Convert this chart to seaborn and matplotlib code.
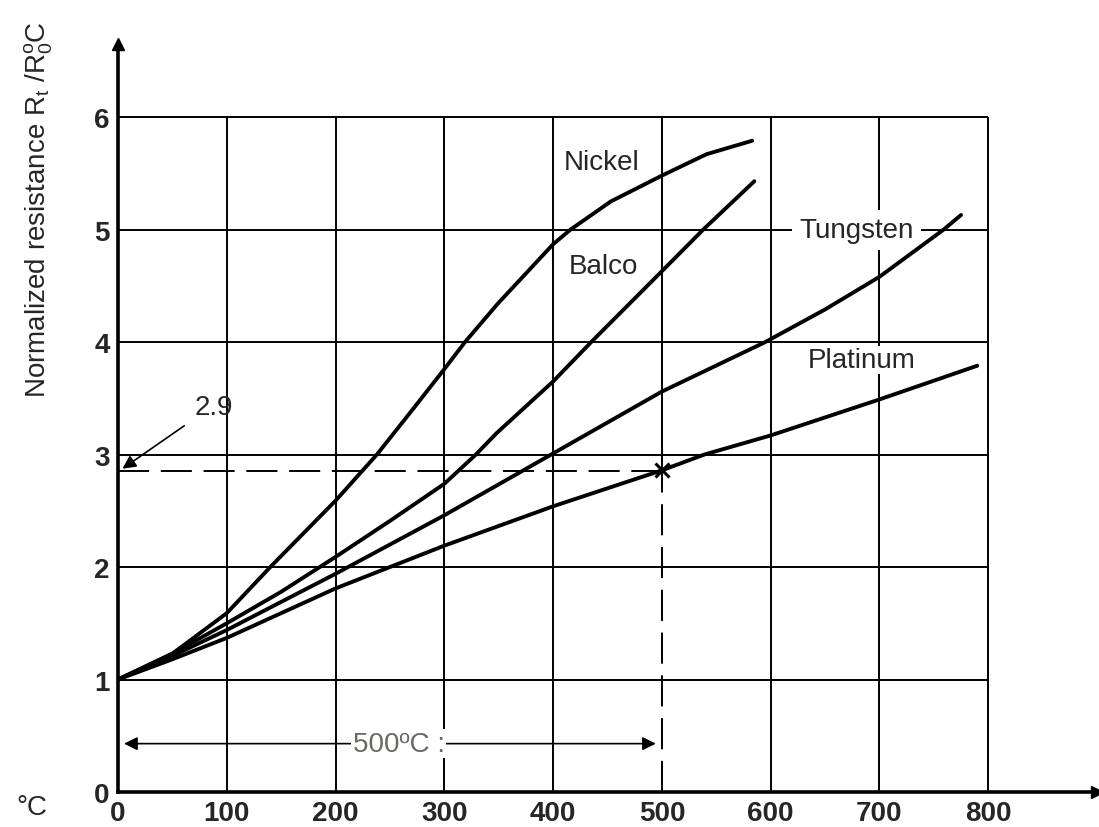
import numpy as np
import pandas as pd
import matplotlib.pyplot as plt
import seaborn as sns

# values
nickel_t = [0, 50, 100, 140, 200, 238, 270, 300, 319, 349, 400, 416, 453, 500, 541, 583]
nickel_r = [1.0, 1.23, 1.59, 2.0, 2.59, 3.0, 3.39, 3.76, 4.0, 4.34, 4.87, 5.0, 5.25, 5.48, 5.67, 5.79]

balco_t = [0, 50, 100, 150, 200, 250, 300, 329, 348, 400, 435, 500, 538, 585]
balco_r = [1.0, 1.23, 1.5, 1.78, 2.09, 2.41, 2.74, 3.0, 3.19, 3.65, 4.0, 4.63, 5.0, 5.43]

tungsten_t = [0, 50, 100, 150, 200, 300, 400, 500, 595, 650, 700, 759, 775]
tungsten_r = [1.0, 1.21, 1.44, 1.69, 1.94, 2.46, 3.01, 3.56, 4.0, 4.29, 4.58, 5.0, 5.13]

platinum_t = [0, 50, 100, 200, 300, 400, 500, 539, 600, 700, 790]
platinum_r = [1.0, 1.18, 1.37, 1.81, 2.19, 2.54, 2.86, 3.0, 3.17, 3.49, 3.79]

x_ticks = [0, 100, 200, 300, 400, 500, 600, 700, 800]
y_ticks = [0, 1, 2, 3, 4, 5, 6]

rows = []
for name, ts, rs in [("Nickel", nickel_t, nickel_r), ("Balco", balco_t, balco_r),
                     ("Tungsten", tungsten_t, tungsten_r), ("Platinum", platinum_t, platinum_r)]:
    for t, r in zip(ts, rs):
        rows.append((name, t, r))
df = pd.DataFrame(rows, columns=["metal", "temp", "ratio"])

sns.set_style("white")
plt.rcParams['font.family'] = ['Liberation Sans', 'DejaVu Sans']
plt.rcParams['mathtext.default'] = 'regular'

fig = plt.figure(figsize=(10.99, 8.28), dpi=100)
ax = fig.add_axes([118 / 1099, 35 / 828, 979 / 1099, 748 / 828])

# grid
ax.hlines(y_ticks[1:], 0, 800, color="black", lw=1.4, zorder=1)
ax.vlines([v for v in x_ticks[1:] if v != 500], 0, 6, color="black", lw=1.4, zorder=1)
ax.vlines(500, 2.86, 6, color="black", lw=1.4, zorder=1)

sns.lineplot(data=df, x="temp", y="ratio", units="metal", estimator=None,
             color="black", lw=2.8, sort=False, ax=ax, zorder=3)

# 500 C reading
ax.plot([0, 500], [2.85, 2.85], color="black", lw=1.4, dashes=(16, 6), zorder=2)
ax.plot([500, 500], [0, 2.85], color="black", lw=1.4, dashes=(16, 6), zorder=2)
ax.plot(500, 2.86, marker="x", color="black", ms=10, mew=2.2, zorder=4)
ax.annotate("", xy=(2, 2.86), xytext=(63, 3.27),
            arrowprops=dict(arrowstyle="-|>", color="black", lw=1.2, mutation_scale=20))
ax.text(70, 3.42, "2.9", fontsize=20, va="center", ha="left")

ax.annotate("", xy=(3, 0.43), xytext=(497, 0.43),
            arrowprops=dict(arrowstyle="<|-|>", color="black", lw=1.2, mutation_scale=20))
ax.text(258, 0.43, "500ºC :", fontsize=20, va="center", ha="center", color="#6e6664",
        bbox=dict(facecolor="white", edgecolor="none", pad=1))

# curve labels
ax.text(445, 5.6, "Nickel", fontsize=20, ha="center", va="center")
ax.text(446, 4.68, "Balco", fontsize=20, ha="center", va="center")
ax.text(679, 5.0, "Tungsten", fontsize=20, ha="center", va="center", zorder=2.5,
        bbox=dict(facecolor="white", edgecolor="none", pad=5))
ax.text(684, 3.84, "Platinum", fontsize=20, ha="center", va="center", zorder=2.5,
        bbox=dict(facecolor="white", edgecolor="none", pad=1))

ax.set_xlim(0, 900)
ax.set_ylim(0, 6.65)
ax.set_xticks(x_ticks)
ax.set_yticks(y_ticks)
ax.tick_params(length=0, labelsize=20, pad=6)
for lab in ax.get_xticklabels() + ax.get_yticklabels():
    lab.set_fontweight("bold")
ax.set_xlabel("")
ax.set_ylabel(r"Normalized resistance R$_t$ /R$_0^o$C", fontsize=20)
ax.yaxis.set_label_coords(-0.064, 0.78)
for s in ["top", "right"]:
    ax.spines[s].set_visible(False)
for s in ["left", "bottom"]:
    ax.spines[s].set_linewidth(2.6)
    ax.spines[s].set_color("black")
ax.plot(1, 0, ">k", ms=8, transform=ax.transAxes, clip_on=False)
ax.plot(0, 1, "^k", ms=8, transform=ax.transAxes, clip_on=False)

fig.text(32 / 1099, 1 - 808 / 828, "°C", fontsize=20, ha="center", va="center")

fig.savefig("out.png", dpi=100)
